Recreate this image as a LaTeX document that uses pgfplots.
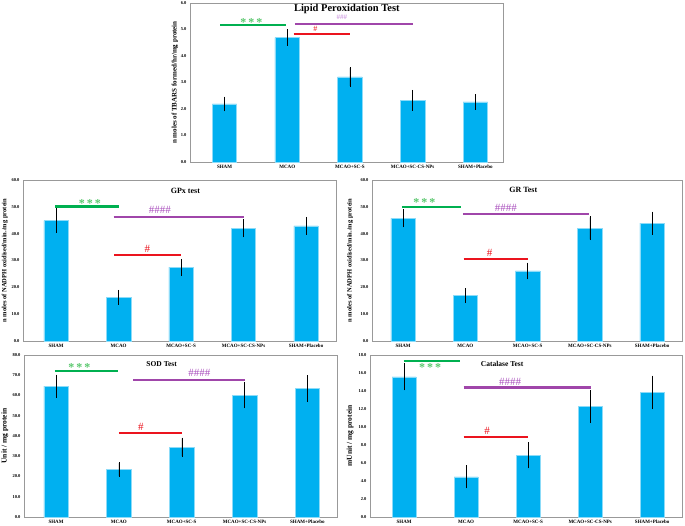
\documentclass[border=0pt]{standalone}
\usepackage{fontspec}
\setmainfont{Liberation Serif}
\usepackage{pgfplots}
\usepackage{pgfplotstable}
\pgfplotsset{compat=1.18}
\definecolor{barc}{RGB}{0,176,240}
\definecolor{sigg}{RGB}{0,176,80}
\definecolor{starg}{RGB}{90,200,110}
\definecolor{sigp}{RGB}{160,70,170}
\definecolor{hashp}{RGB}{170,80,190}
\definecolor{lighthash}{RGB}{200,140,220}
\definecolor{sigr}{RGB}{235,20,30}

\pgfplotstableread{
x y e
0 2.19 0.25
1 4.69 0.28
2 3.21 0.34
3 2.33 0.36
4 2.27 0.26
}\lpo
\pgfplotstableread{
x y e
0 44.9 4.2
1 16.3 2.45
2 27.5 2.8
3 42.0 3.1
4 42.9 3.05
}\gpx
\pgfplotstableread{
x y e
0 45.7 3.1
1 16.9 2.45
2 26.1 2.85
3 42.0 4.1
4 43.9 4.05
}\gr
\pgfplotstableread{
x y e
0 64.6 5.3
1 23.5 3.15
2 34.4 4.4
3 60.1 6.05
4 63.4 6.3
}\sod
\pgfplotstableread{
x y e
0 15.58 1.42
1 4.47 1.21
2 6.86 1.36
3 12.25 1.72
4 13.85 1.77
}\cat

\newcommand{\stars}{*\hspace{2pt}*\hspace{2pt}*}
\pgfplotsset{
 panel/.style={
  scale only axis, anchor=south west, ymin=0, clip=false,
  xtick={0,1,2,3,4},
  xticklabels={SHAM,MCAO,MCAO+SC-S,MCAO+SC-CS-NPs,SHAM+Placebo},
  axis line style={draw=gray!80, line width=0.6pt},
  major tick length=0pt,
  yticklabel style={/pgf/number format/assume math mode=true,
    /pgf/number format/fixed, /pgf/number format/fixed zerofill,
    /pgf/number format/precision=1,
    font=\bfseries\fontsize{4.5}{5}\selectfont},
  xticklabel style={font=\bfseries\fontsize{5}{6}\selectfont},
  every axis y label/.style={rotate=90, anchor=center,
    font=\bfseries\fontsize{6.5}{7}\selectfont},
 },
 bars/.style={ybar, bar width=0.39, fill=barc, draw=barc!45!white, line width=0.5pt,
  error bars/.cd, y dir=both, y explicit,
  error bar style={black, line width=0.5pt},
  error mark options={black, mark size=0.8pt, line width=0.5pt}},
 gl/.style={sigg, line width=2.2pt, sharp plot, forget plot},
 pl/.style={sigp, line width=2.2pt, sharp plot, forget plot},
 rl/.style={sigr, line width=2.2pt, sharp plot, forget plot},
}
\tikzset{
 st/.style={starg, font=\bfseries\fontsize{12}{12}\selectfont, inner sep=0pt},
 hb/.style={hashp, font=\fontsize{11}{12}\selectfont, inner sep=0pt},
 hr/.style={sigr, font=\fontsize{11}{12}\selectfont, inner sep=0pt},
}

\begin{document}
\begin{tikzpicture}
\useasboundingbox (0pt,0pt) rectangle (685pt,526pt);
\fill[white] (0pt,0pt) rectangle (685pt,526pt);

% Lipid peroxidation
\begin{axis}[panel, at={(190pt,364pt)}, width=313pt, height=159pt,
  xmin=-0.55, xmax=4.44, ymax=6, ytick={0,1,...,6},
  ylabel={n moles of TBARS formed/hr/mg protein},
  every axis y label/.append style={at={(axis description cs:-0.048,0.5)}, font=\bfseries\fontsize{7}{8}\selectfont}]
\addplot[bars] table[x=x,y=y,y error=e]{\lpo};
\addplot[gl] coordinates {(-0.07,5.16) (0.98,5.16)};
\addplot[pl] coordinates {(1.12,5.22) (3.0,5.22)};
\addplot[rl] coordinates {(1.10,4.82) (2.0,4.82)};
\node[st, yshift=3.2pt] at (axis cs:0.43,5.16) {\stars};
\node[lighthash, inner sep=0pt, font=\fontsize{7}{8}\selectfont, yshift=6.2pt] at (axis cs:1.87,5.22) {\#\#\#};
\node[sigr, inner sep=0pt, font=\fontsize{8}{9}\selectfont, yshift=5.3pt] at (axis cs:1.45,4.82) {\#};
\node[font=\bfseries\fontsize{10.5}{11}\selectfont, inner sep=0pt] at (axis cs:1.95,5.77) {Lipid Peroxidation Test};
\end{axis}

% GPx
\begin{axis}[panel, at={(23pt,185pt)}, width=313pt, height=161pt,
  xmin=-0.53, xmax=4.48, ymax=60, ytick={0,10,...,60},
  ylabel={n moles of NADPH oxidised/min./mg protein},
  every axis y label/.append style={at={(axis description cs:-0.058,0.5)}}]
\addplot[bars] table[x=x,y=y,y error=e]{\gpx};
\addplot[gl] coordinates {(-0.01,50.1) (1.0,50.1)};
\addplot[pl] coordinates {(0.92,46.2) (3.0,46.2)};
\addplot[rl] coordinates {(0.93,32.0) (2.0,32.0)};
\node[st, yshift=3.2pt] at (axis cs:0.54,50.1) {\stars};
\node[hb, yshift=7pt] at (axis cs:1.66,46.2) {\#\#\#\#};
\node[hr, yshift=6.7pt] at (axis cs:1.46,32.0) {\#};
\node[font=\bfseries\fontsize{8}{9}\selectfont] at (axis cs:2.07,56) {GPx test};
\end{axis}

% GR
\begin{axis}[panel, at={(372pt,185pt)}, width=310pt, height=161pt,
  xmin=-0.5, xmax=4.48, ymax=60, ytick={0,10,...,60},
  ylabel={n moles of NADPH oxidised/min./mg protein},
  every axis y label/.append style={at={(axis description cs:-0.071,0.5)}}]
\addplot[bars] table[x=x,y=y,y error=e]{\gr};
\addplot[gl] coordinates {(-0.02,49.8) (0.93,49.8)};
\addplot[pl] coordinates {(0.96,47.2) (2.98,47.2)};
\addplot[rl] coordinates {(0.97,30.6) (2.0,30.6)};
\node[st, yshift=4.5pt] at (axis cs:0.34,49.8) {\stars};
\node[hb, yshift=6.7pt] at (axis cs:1.65,47.2) {\#\#\#\#};
\node[hr, yshift=6pt] at (axis cs:1.39,30.6) {\#};
\node[font=\bfseries\fontsize{8}{9}\selectfont] at (axis cs:1.93,56.3) {GR Test};
\end{axis}

% SOD
\begin{axis}[panel, at={(24pt,9pt)}, width=313pt, height=162pt,
  xmin=-0.51, xmax=4.47, ymax=80, ytick={0,10,...,80},
  ylabel={Unit / mg protein},
  every axis y label/.append style={at={(axis description cs:-0.061,0.5)}, font=\bfseries\fontsize{7.5}{8}\selectfont}]
\addplot[bars] table[x=x,y=y,y error=e]{\sod};
\addplot[gl] coordinates {(-0.02,71.9) (0.98,71.9)};
\addplot[pl] coordinates {(1.23,67.5) (3.01,67.5)};
\addplot[rl] coordinates {(1.0,41.4) (2.01,41.4)};
\node[st, yshift=4pt] at (axis cs:0.37,71.9) {\stars};
\node[hb, yshift=7.3pt] at (axis cs:2.28,67.5) {\#\#\#\#};
\node[hr, yshift=6.7pt] at (axis cs:1.35,41.4) {\#};
\node[font=\bfseries\fontsize{7.5}{8}\selectfont] at (axis cs:1.68,75.3) {SOD Test};
\end{axis}

% Catalase
\begin{axis}[panel, at={(370pt,9pt)}, width=312pt, height=162pt,
  xmin=-0.55, xmax=4.48, ymax=18, ytick={0,2,...,18},
  ylabel={mUnit / mg protein},
  every axis y label/.append style={at={(axis description cs:-0.064,0.5)}, font=\bfseries\fontsize{7.5}{8}\selectfont}]
\addplot[bars] table[x=x,y=y,y error=e]{\cat};
\addplot[gl] coordinates {(-0.01,17.33) (0.90,17.33)};
\addplot[pl] coordinates {(0.96,14.39) (3.01,14.39)};
\addplot[rl] coordinates {(0.96,8.87) (2.0,8.87)};
\node[st, yshift=-6.6pt] at (axis cs:0.42,17.33) {\stars};
\node[hb, yshift=6pt] at (axis cs:1.71,14.39) {\#\#\#\#};
\node[hr, yshift=6.7pt] at (axis cs:1.34,8.87) {\#};
\node[font=\bfseries\fontsize{7.5}{8}\selectfont] at (axis cs:1.58,17.0) {Catalase Test};
\end{axis}
\end{tikzpicture}
\end{document}
